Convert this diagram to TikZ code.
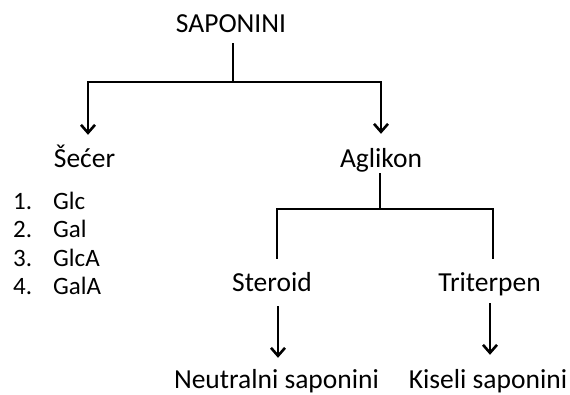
\documentclass[tikz,border=0pt]{standalone}
\usepackage{fontspec}
\setmainfont{Carlito}
\usetikzlibrary{arrows.meta}
\tikzset{
	txt/.style={inner sep=0pt, anchor=base, text height=18pt, text depth=0pt, font=\fontsize{27.5}{33}\selectfont},
	lst/.style={inner sep=0pt, anchor=base west, font=\fontsize{25}{30}\selectfont},
	ln/.style={line width=2.6pt},
	arr/.style={line width=2.6pt, -{Straight Barb[length=8pt,width=14pt]}}
}
\begin{document}
\begin{tikzpicture}[x=1pt,y=-1pt]
			\useasboundingbox (0,0) rectangle (570,394);
			
			%Top
			\node[txt] (Sap) at (231,32) {SAPONINI};
			\coordinate (T) at (233,82);
			\draw[ln, shorten <=11pt] (Sap.south -| T) -- (T);
			
			%Sugar and aglycone
			\node[txt] (Sec) at (84.5,167) {Šećer};
			\node[txt] (Agl) at (381,167) {Aglikon};
			\draw[arr, shorten >=14pt] (T) -| ([xshift=3.5pt]Sec.north);
			\draw[arr, shorten >=15pt] (T) -| (Agl.north);
			
			%Sugar list
			\node[lst] (N1) at (13,209) {1.};
			\node[lst] (G1) at (53,209) {Glc};
			\node[lst] (N2) at (13,237.5) {2.};
			\node[lst] (G2) at (53,237.5) {Gal};
			\node[lst] (N3) at (13,266) {3.};
			\node[lst] (G3) at (53,266) {GlcA};
			\node[lst] (N4) at (13,294) {4.};
			\node[lst] (G4) at (53,294) {GalA};
			
			%Aglycone split
			\node[txt] (Ste) at (272,291) {Steroid};
			\node[txt] (Tri) at (489.5,291) {Triterpen};
			\coordinate (B) at (380,209);
			\draw[ln, shorten <=6pt] (Agl.south -| B) -- (B);
			\draw[ln, shorten <=14pt, shorten >=14pt] ([xshift=5pt]Ste.north) |- (B) -| ([xshift=3.5pt]Tri.north);
			
			%Saponin types
			\node[txt] (Neu) at (276.5,388) {Neutralni saponini};
			\node[txt] (Kis) at (488,388) {Kiseli saponini};
			\draw[arr, shorten <=15pt, shorten >=12pt] ([xshift=6pt]Ste.south) -- ([xshift=6pt]Ste.south |- Neu.north);
			\draw[arr, shorten <=12pt, shorten >=15pt] ([xshift=0.5pt]Tri.south) -- ([xshift=0.5pt]Tri.south |- Kis.north);
\end{tikzpicture}
\end{document}
